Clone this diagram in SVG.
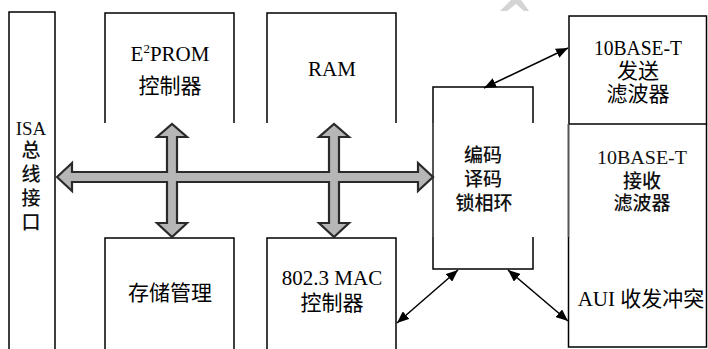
<svg xmlns="http://www.w3.org/2000/svg" width="708" height="349" viewBox="0 0 708 349">
<style>
.box{fill:none;stroke:#000;stroke-width:1.5}
.gline{fill:none;stroke:#555;stroke-width:2}
.t{font-family:"Liberation Serif","Noto Sans CJK SC",serif;font-size:21px;fill:#000;text-anchor:middle}
.p{font-family:"Liberation Serif","Noto Sans CJK SC",serif;font-size:19px;fill:#111;text-anchor:middle;font-weight:500}
.conn{stroke:#000;stroke-width:1.5;fill:none;marker-start:url(#ah);marker-end:url(#ah)}
</style>
<defs>
<marker id="ah" viewBox="0 0 12 10" refX="12" refY="5" markerWidth="12" markerHeight="10" markerUnits="userSpaceOnUse" orient="auto-start-reverse">
<path d="M0,0 L12,5 L0,10 Z" fill="#000"/>
</marker>
</defs>
<rect width="708" height="349" fill="#fff"/>
<path d="M500,11 L511,0 L521,0 L529,11 L524,11 L516,4 L507,11 Z" fill="#d4d4d4"/>
<g id="isa">
<path class="box" d="M9,349 V12 H55 V349"/>
<text class="p" x="31" y="135" font-size="19">ISA</text>
<text class="p" x="31" y="157" font-size="17">总</text>
<text class="p" x="31" y="181" font-size="17">线</text>
<text class="p" x="31" y="205" font-size="17">接</text>
<text class="p" x="31" y="229" font-size="17">口</text>
</g>
<g id="eprom">
<path class="box" d="M105,123 V13 H234 V123"/>
<text class="t" x="170" y="61"><tspan>E</tspan><tspan font-size="13" dy="-8">2</tspan><tspan dy="8">PROM</tspan></text>
<text class="t" x="170" y="93">控制器</text>
</g>
<g id="ram">
<path class="box" d="M267,123 V13 H396 V123"/>
<text class="t" x="332" y="76">RAM</text>
</g>
<g id="mem">
<path class="box" d="M105,349 V238 H234 V349"/>
<text class="t" x="170" y="300">存储管理</text>
</g>
<g id="mac">
<path class="box" d="M267,349 V238 H396 V349"/>
<text class="t" x="332" y="285">802.3 MAC</text>
<text class="t" x="332" y="310">控制器</text>
</g>
<g id="codec">
<path class="box" d="M433,123 V87 H533 V123 M533,237 V269 H433 V237"/>
<path class="gline" d="M433,123 V237"/>
<text class="p" x="483" y="162">编码</text>
<text class="p" x="483" y="186">译码</text>
<text class="p" x="484" y="210">锁相环</text>
</g>
<g id="tx">
<rect class="box" x="569" y="16" width="137.5" height="108"/>
<text class="t" x="638" y="55" textLength="88" lengthAdjust="spacingAndGlyphs">10BASE-T</text>
<text class="t" x="638" y="78">发送</text>
<text class="t" x="638" y="101">滤波器</text>
</g>
<g id="rx">
<path class="box" d="M568.5,237 V347 H706.5 V124"/>
<path class="gline" d="M568.5,124 V237"/>
<text class="p" x="642" y="164" textLength="90" lengthAdjust="spacingAndGlyphs">10BASE-T</text>
<text class="p" x="642" y="188">接收</text>
<text class="p" x="642" y="210">滤波器</text>
<text class="t" x="641" y="306">AUI 收发冲突</text>
</g>
<g id="connectors">
<path d="M57,177 L72,163 L72,172 L167,172 L167,137 L157,137 L172,124 L187,137 L177,137 L177,172 L329,172 L329,137 L319,137 L334,124 L349,137 L339,137 L339,172 L418,172 L418,163 L433,177 L418,191 L418,182 L339,182 L339,223 L349,223 L334,237 L319,223 L329,223 L329,182 L177,182 L177,223 L187,223 L172,237 L157,223 L167,223 L167,182 L72,182 L72,191 Z" fill="#b6b6b6" stroke="#2a2a2a" stroke-width="2.2" stroke-linejoin="miter"/>
<line class="conn" x1="484" y1="88" x2="568" y2="48"/>
<line class="conn" x1="458" y1="270" x2="397" y2="323"/>
<line class="conn" x1="508" y1="270" x2="568" y2="321"/>
</g>
</svg>
